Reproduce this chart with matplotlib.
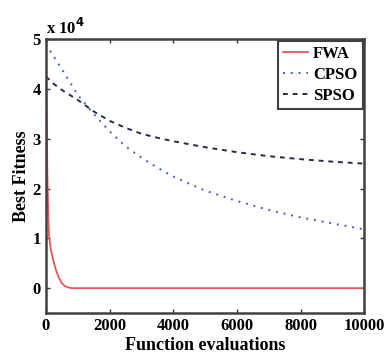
import matplotlib.pyplot as plt

# values in units of 1e4
evals_fwa = [0, 20, 50, 80, 100, 150, 200, 250, 300, 400, 500, 600, 700, 800, 1000, 10000]
fwa = [4.6, 3.6, 2.2, 1.4, 1.05, 0.8, 0.65, 0.52, 0.4, 0.22, 0.1, 0.04, 0.015, 0.0, 0.0, 0.0]

evals = [0, 250, 500, 1000, 1500, 2000, 2500, 3000, 3500, 4000, 5000, 6000, 7000, 8000, 9000, 10000]
cpso = [4.9, 4.65, 4.4, 3.88, 3.5, 3.15, 2.85, 2.62, 2.42, 2.24, 1.96, 1.75, 1.57, 1.42, 1.3, 1.18]
spso = [4.25, 4.1, 3.98, 3.78, 3.55, 3.36, 3.22, 3.1, 3.02, 2.95, 2.83, 2.73, 2.65, 2.59, 2.54, 2.5]

plt.rcParams['font.family'] = 'Liberation Serif'
plt.rcParams['font.weight'] = 'bold'

fig = plt.figure(figsize=(3.92, 3.59), dpi=100)
ax = fig.add_axes([0.117, 0.128, 0.812, 0.763])

ax.plot(evals_fwa, fwa, color='#e05a5a', lw=1.3, label='FWA')
ax.plot(evals, cpso, color='#4a5cc0', lw=1.4, ls=(0, (1, 3)), label='CPSO')
ax.plot(evals, spso, color='#2a2a40', lw=1.4, ls=(0, (2.5, 2.5)), label='SPSO')

ax.set_xlim(0, 10000)
ax.set_ylim(-0.5, 5)
ax.set_xticks([0, 2000, 4000, 6000, 8000, 10000])
ax.set_yticks([0, 1, 2, 3, 4, 5])
ax.tick_params(direction='in', top=True, right=True, labelsize=12, length=3, width=1, colors='#333333')
for lab in ax.get_xticklabels() + ax.get_yticklabels():
    lab.set_fontweight('bold')
    lab.set_color('black')
for s in ax.spines.values():
    s.set_linewidth(1.8)
    s.set_color('#404040')

ax.text(0.0, 1.005, r'x 10$^4$', transform=ax.transAxes, fontsize=12, fontweight='bold', va='bottom', ha='left')
ax.set_xlabel('Function evaluations', fontsize=13, fontweight='bold', labelpad=2)
ax.set_ylabel('Best Fitness', fontsize=13, fontweight='bold', labelpad=2)

leg = ax.legend(loc='upper right', fontsize=12, handlelength=1.5, handletextpad=0.3,
                borderaxespad=0.1, fancybox=False, framealpha=1, borderpad=0.3, labelspacing=0.3)
leg.get_frame().set_edgecolor('#404040')
leg.get_frame().set_linewidth(1.5)

fig.savefig('out.png', dpi=100)
